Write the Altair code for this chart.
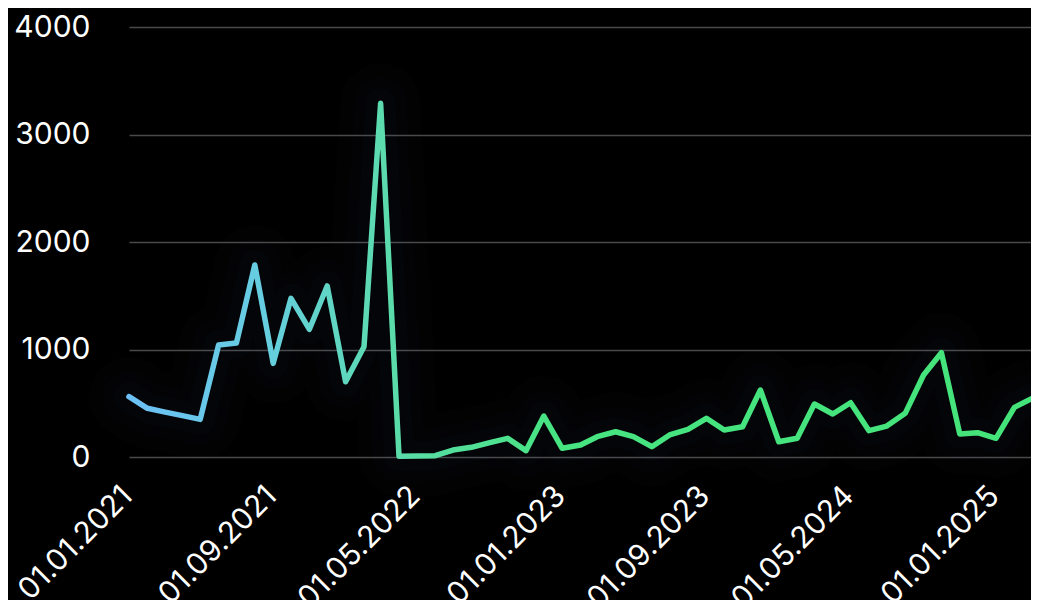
import altair as alt
import pandas as pd

months = [
    "2021-01-01", "2021-02-01", "2021-03-01", "2021-04-01", "2021-05-01", "2021-06-01",
    "2021-07-01", "2021-08-01", "2021-09-01", "2021-10-01", "2021-11-01", "2021-12-01",
    "2022-01-01", "2022-02-01", "2022-03-01", "2022-04-01", "2022-05-01", "2022-06-01",
    "2022-07-01", "2022-08-01", "2022-09-01", "2022-10-01", "2022-11-01", "2022-12-01",
    "2023-01-01", "2023-02-01", "2023-03-01", "2023-04-01", "2023-05-01", "2023-06-01",
    "2023-07-01", "2023-08-01", "2023-09-01", "2023-10-01", "2023-11-01", "2023-12-01",
    "2024-01-01", "2024-02-01", "2024-03-01", "2024-04-01", "2024-05-01", "2024-06-01",
    "2024-07-01", "2024-08-01", "2024-09-01", "2024-10-01", "2024-11-01", "2024-12-01",
    "2025-01-01", "2025-02-01", "2025-03-01",
]
values = [
    561, 453, 420, 385, 350, 1042,
    1060, 1786, 871, 1476, 1188, 1591,
    700, 1026, 3290, 8, 10, 12,
    65, 90, 133, 174, 59, 381,
    81, 112, 189, 235, 189, 96,
    205, 258, 360, 251, 282, 623,
    142, 174, 493, 400, 505, 245,
    288, 406, 763, 970, 214, 226,
    174, 462, 540,
]
tick_dates = [(2021, 1), (2021, 9), (2022, 5), (2023, 1), (2023, 9), (2024, 5), (2025, 1)]
y_ticks = [0, 1000, 2000, 3000, 4000]

df = pd.DataFrame({"date": months, "value": values})

FONT = "Inter"

x_enc = alt.X(
    "date:T",
    scale=alt.Scale(
        type="utc",
        domain=[alt.DateTime(year=2021, month=1, date=1, utc=True),
                alt.DateTime(year=2025, month=3, date=1, utc=True)],
        range=[8, 910],
    ),
    axis=alt.Axis(
        values=[alt.DateTime(year=yy, month=mm, date=1, utc=True) for yy, mm in tick_dates],
        format="%d.%m.%Y",
        labelAngle=-45,
        labelAlign="right",
        labelBaseline="middle",
        labelPadding=34,
        labelOffset=-2,
        ticks=False,
        tickSize=0,
        domain=False,
        grid=False,
        labelFontSize=30,
        labelColor="#ffffff",
        labelFont=FONT,
        labelOverlap=False,
        labelBound=False,
        title=None,
    ),
)
y_enc = alt.Y(
    "value:Q",
    scale=alt.Scale(domain=[0, 4000]),
    axis=alt.Axis(
        values=y_ticks,
        format="d",
        grid=True,
        gridColor="#4a4a4a",
        gridWidth=1.5,
        domain=False,
        ticks=False,
        tickSize=0,
        labelPadding=31,
        labelFontSize=30,
        labelColor="#ffffff",
        labelFont=FONT,
        title=None,
    ),
)

base = alt.Chart(df).encode(x=x_enc, y=y_enc)

glow_layers = []
for w, op in [(80, 0.016), (52, 0.016), (30, 0.018)]:
    glow_layers.append(
        base.mark_line(color="#7f98ba", strokeWidth=w, opacity=op,
                       strokeJoin="round", strokeCap="round")
    )

gradient = alt.Gradient(
    gradient="linear",
    stops=[
        alt.GradientStop(color="#6cc0f6", offset=0.0),
        alt.GradientStop(color="#66cee0", offset=0.15),
        alt.GradientStop(color="#5bdcab", offset=0.29),
        alt.GradientStop(color="#47e482", offset=0.47),
        alt.GradientStop(color="#44e47a", offset=1.0),
    ],
    x1=0, x2=1, y1=0, y2=0,
)

main = base.mark_line(stroke=gradient, strokeWidth=5.5, strokeJoin="round", strokeCap="round")

chart = alt.layer(*glow_layers, main).properties(
    width=910,
    height=430,
    padding={"left": 113, "top": 19, "right": 0, "bottom": 143},
    autosize=alt.AutoSizeParams(type="none"),
    background="#000000",
).configure_view(stroke=None)

chart.save("out.html", embed_options={"renderer": "svg", "actions": False})
